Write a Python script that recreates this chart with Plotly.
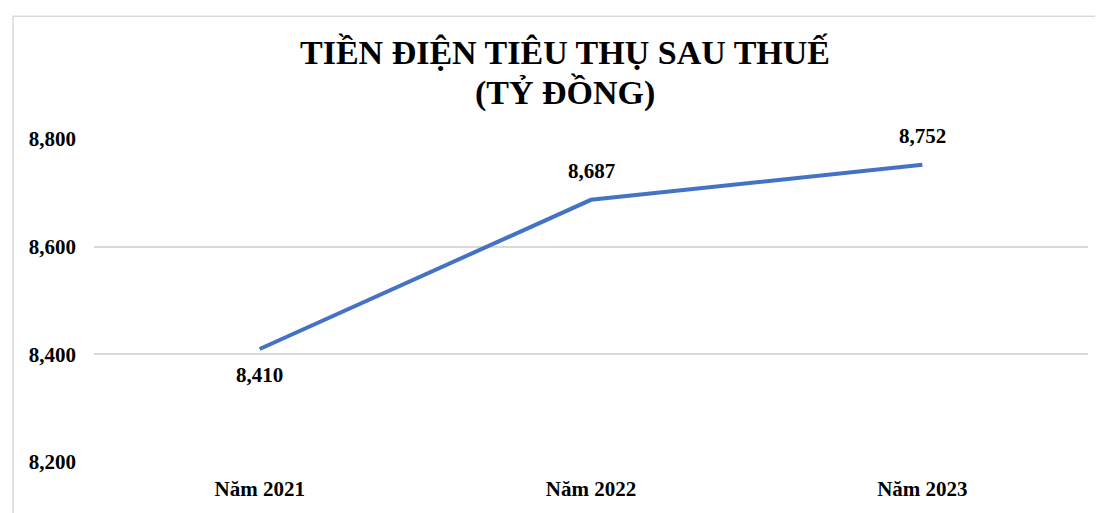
import plotly.graph_objects as go

categories = ["Năm 2021", "Năm 2022", "Năm 2023"]
values = [8410, 8687, 8752]
label_shift = [-26, 29, 29]
y_ticks = [8200, 8400, 8600, 8800]

title_line1 = "TIỀN ĐIỆN TIÊU THỤ SAU THUẾ"
title_line2 = "(TỶ ĐỒNG)"

OFF = 8  # page body margin
W, H = 1103 - OFF, 513 - OFF
L, R, T, B = 94 - OFF, 15, 139 - OFF, 45
pw, ph = W - L - R, H - T - B

def px_x(p):
    return (p - OFF - L) / pw

def px_y(p):
    return (H - B - (p - OFF)) / ph

FONT = "Liberation Serif"

fig = go.Figure()
fig.add_trace(go.Scatter(
    x=categories, y=values, mode="lines",
    line=dict(color="#4472C4", width=4),
    hoverinfo="skip", showlegend=False,
))

for c, v, s in zip(categories, values, label_shift):
    fig.add_annotation(
        x=c, y=v, xref="x", yref="y", text=f"<b>{v:,}</b>", showarrow=False,
        yshift=s, xanchor="center", yanchor="middle",
        font=dict(family=FONT, size=21, color="#000000"),
    )

fig.add_annotation(x=px_x(565), y=px_y(50), xref="paper", yref="paper",
                   text=f"<b>{title_line1}</b>", showarrow=False,
                   xanchor="center", yanchor="middle",
                   font=dict(family=FONT, size=34, color="#000000"))
fig.add_annotation(x=px_x(565), y=px_y(92), xref="paper", yref="paper",
                   text=f"<b>{title_line2}</b>", showarrow=False,
                   xanchor="center", yanchor="middle",
                   font=dict(family=FONT, size=34, color="#000000"))

fig.add_shape(type="rect", xref="paper", yref="paper",
              x0=px_x(13), x1=px_x(1120), y0=px_y(14), y1=px_y(530),
              line=dict(color="#D9D9D9", width=1.5), layer="below")

fig.update_layout(
    width=W, height=H,
    margin=dict(l=L, r=R, t=T, b=B),
    paper_bgcolor="white", plot_bgcolor="white",
    font=dict(family=FONT, size=21, color="#000000"),
)
fig.update_xaxes(
    range=[-0.5, 2.5], showgrid=False, zeroline=False, showline=False,
    ticks="", tickfont=dict(family=FONT, size=21, color="#000000"),
    tickvals=categories, ticktext=[f"<b>{c}</b>" for c in categories],
    ticklabelstandoff=12,
)
fig.update_yaxes(
    range=[8200, 8800], tickvals=y_ticks,
    ticktext=[f"<b>{v:,}</b>" for v in y_ticks],
    showgrid=True, gridcolor="#D9D9D9", gridwidth=1.5,
    zeroline=False, showline=False, ticks="",
    tickfont=dict(family=FONT, size=21, color="#000000"),
    ticklabelstandoff=17,
)

fig.write_html("out.html")
